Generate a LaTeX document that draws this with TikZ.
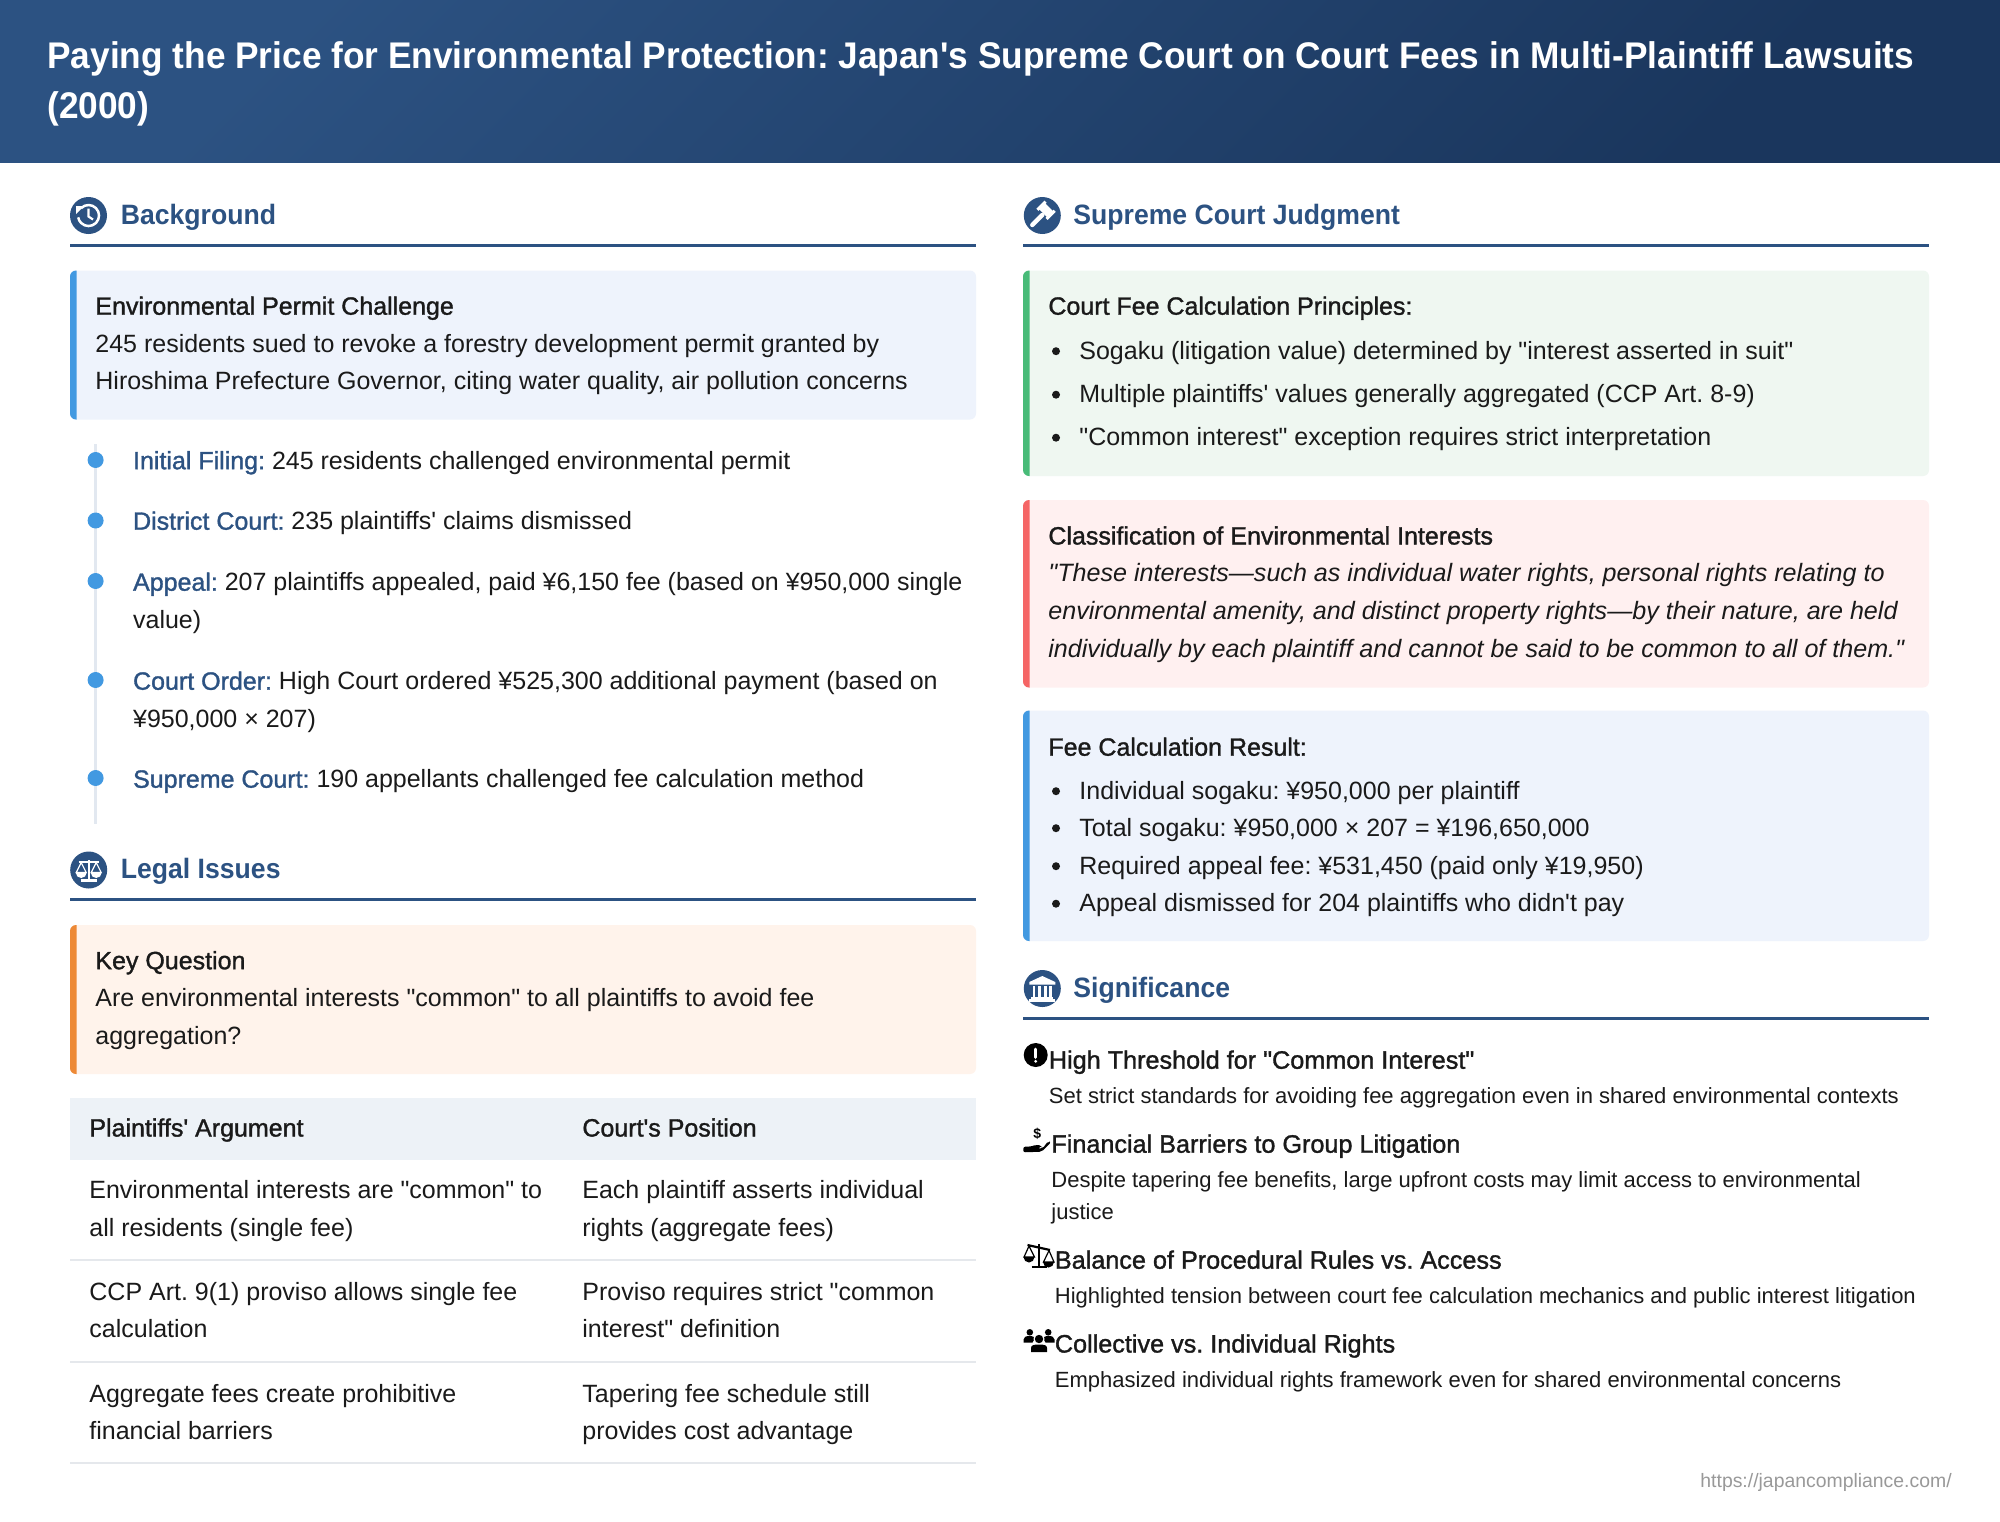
\documentclass[tikz,border=0pt]{standalone}
\usepackage{fontspec}
\setmainfont{Liberation Sans}[Ligatures=TeXOff]
\newfontfamily\medfont{Liberation Sans}[FakeBold=1.3,Ligatures=TeXOff]
\newfontfamily\headfont{Liberation Sans}[FakeStretch=.95,Ligatures=TeXOff]
\frenchspacing
\definecolor{headblue}{RGB}{44,82,130}
\definecolor{deepblue}{RGB}{26,54,93}
\definecolor{dotblue}{RGB}{66,153,225}
\definecolor{railgrey}{RGB}{226,232,240}
\definecolor{rowgrey}{RGB}{229,232,236}
\definecolor{ink}{RGB}{26,26,26}
\definecolor{paleblue}{RGB}{238,243,252}
\definecolor{palegreen}{RGB}{239,247,241}
\definecolor{palered}{RGB}{255,240,240}
\definecolor{paleorange}{RGB}{255,243,235}
\definecolor{palegrey}{RGB}{237,242,247}
\definecolor{accgreen}{RGB}{72,187,120}
\definecolor{accred}{RGB}{245,101,101}
\definecolor{accorange}{RGB}{237,137,54}
\definecolor{footgrey}{RGB}{153,153,153}
\newcommand{\lead}[1]{{\medfont\color{headblue}#1}}
\tikzset{
  body/.style={anchor=base west,inner sep=0pt,text=ink,font=\fontsize{12.5}{15}\selectfont},
  boxtitle/.style={body,font=\fontsize{12.5}{15}\selectfont\medfont},
  small/.style={body,font=\fontsize{11}{13}\selectfont},
  sigtitle/.style={body,font=\fontsize{12.6}{15}\selectfont\medfont},
  sechead/.style={body,text=headblue,font=\fontsize{14}{16}\selectfont\headfont\bfseries},
  pagetitle/.style={body,text=white,font=\fontsize{18.55}{22}\selectfont\headfont\bfseries},
  rule/.style={headblue,line width=1.5pt},
  pics/histicon/.style={code={
    \begin{scope}[yscale=-1]
    \fill[headblue] (0,0) circle (18.5);
    \draw[white,line width=1.25pt] (-7.4,7.4) arc (135:-170:10.5);
    \fill[white] (-12.5,9.5) -- (-4.5,9.5) -- (-12.5,1.5) -- cycle;
    \draw[white,line width=1.1pt] (0,7) -- (0,-1) -- (4.5,-4);
    \end{scope}
  }},
  pics/gavelicon/.style={code={
    \begin{scope}[yscale=-1]
    \fill[headblue] (0,0) circle (18.5);
    \draw[white,line width=2.2pt,line cap=round] (-10,-9.5) -- (0,.5);
    \begin{scope}[shift={(-1,.5)},rotate=45]
      \fill[white] (-6,2.5) rectangle (6,11);
      \fill[white] (-8,1) rectangle (-5,12.5);
      \fill[white] (5,1) rectangle (8,12.5);
    \end{scope}
    \end{scope}
  }},
  pics/scaleicon/.style={code={
    \begin{scope}[yscale=-1]
    \draw[#1,line width=1.1pt] (0,10) -- (0,-10) (-8,-10.5) -- (8,-10.5) (-10,8) -- (10,8);
    \draw[#1,line width=.6pt] (-12.5,-2.5) -- (-7.5,7.5) -- (-2.5,-2.5) -- cycle (2.5,-2.5) -- (7.5,7.5) -- (12.5,-2.5) -- cycle;
    \fill[#1] (-13,-2.5) arc (180:360:5.5) -- cycle (2,-2.5) arc (180:360:5.5) -- cycle;
    \end{scope}
  }},
  pics/tiltscale/.style={code={
    \begin{scope}[yscale=-1]
    \draw[black,line width=1pt] (0,12) -- (0,-10.5) (-7.5,-11) -- (8,-11);
    \draw[black,line width=1.1pt] (-11.5,11) -- (11,6);
    \draw[black,line width=.6pt] (-15,-1) -- (-10,10) -- (-4.5,-1) -- cycle (4.5,-6) -- (10,5.5) -- (15,-6) -- cycle;
    \fill[black] (-15.5,-1) arc (180:360:5.5) -- cycle (4,-6) arc (180:360:5.5) -- cycle;
    \end{scope}
  }},
  pics/bankicon/.style={code={
    \begin{scope}[yscale=-1]
    \fill[headblue] (0,0) circle (18.5);
    \fill[white] (0,12.5) -- (-13,6.5) -- (-13,4) -- (13,4) -- (13,6.5) -- cycle;
    \foreach \cx in {-8.3,-3,3,8.3} \fill[white] (\cx-1.2,2.5) rectangle (\cx+1.2,-8);
    \fill[white] (-11,-8) rectangle (11,-10);
    \fill[white] (-13,-10.5) rectangle (13,-13);
    \end{scope}
  }},
  pics/alerticon/.style={code={
    \begin{scope}[yscale=-1]
    \fill[black] (0,0) circle (12);
    \draw[white,line width=1.3pt,line cap=round] (0,6) -- (0,-2.5);
    \fill[white] (0,-6.3) circle (1.6);
    \end{scope}
  }},
  pics/handicon/.style={code={
    \begin{scope}[yscale=-1]
    \fill[black,rounded corners=1] (-14.2,-5.7) -- (-7.5,-5.7) -- (-1,-3.7) -- (4,-4.7) -- (3.5,-7) -- (-2,-7) -- (5,-7.5) -- (10.8,0) -- (13.5,-1.3) -- (4,-10.7) -- (-14.2,-11.3) -- cycle;
    \node[inner sep=0pt,font=\fontsize{7}{8}\selectfont\bfseries] (handcoin) at (-.2,6.7) {\$};
    \end{scope}
  }},
  pics/peopleicon/.style={code={
    \begin{scope}[yscale=-1]
    \fill[black] (-9.2,7.7) circle (3.3) (9.2,7.7) circle (3.3);
    \fill[black] (-15.5,-2.5) -- (-15.5,.5) .. controls (-15.5,3) and (-13,4) .. (-9.5,4) .. controls (-6,4) and (-4,3) .. (-4.5,1) -- (-6.5,-2.5) -- cycle;
    \fill[black] (15.5,-2.5) -- (15.5,.5) .. controls (15.5,3) and (13,4) .. (9.5,4) .. controls (6,4) and (4,3) .. (4.5,1) -- (6.5,-2.5) -- cycle;
    \fill[white] (0,1) circle (5.5);
    \fill[black] (0,1) circle (4.2);
    \fill[black] (-8,-12) -- (-8,-8) .. controls (-8,-5) and (-5,-4.5) .. (0,-4.5) .. controls (5,-4.5) and (8,-5) .. (8,-8) -- (8,-12) -- cycle;
    \end{scope}
  }},
}
\begin{document}
\begin{tikzpicture}[x=.5pt,y=-.5pt]
\useasboundingbox (0,0) rectangle (2000,1521);
\fill[white] (0,0) rectangle (2000,1521);
\shade[top color=headblue,bottom color=deepblue,shading angle=45] (0,0) rectangle (2000,162);
\node[pagetitle] (title1) at (47,68) {Paying the Price for Environmental Protection: Japan's Supreme Court on Court Fees in Multi-Plaintiff Lawsuits};
\node[pagetitle] (title2) at (47,118) {(2000)};

\foreach \x/\y/\t [count=\i] in {120.5/224.5/Background,1073/224.5/Supreme Court Judgment,120.5/878.5/Legal Issues,1073/997.5/Significance}
  \node[sechead] (sec\i) at (\x,\y) {\t};
\foreach \xa/\xb/\y in {70/976/245,1023/1929/245,70/976/899.5,1023/1929/1018}
  \draw[rule] (\xa,\y) -- (\xb,\y);
\pic at (88.5,215.5) {histicon};
\pic at (1042.3,215.5) {gavelicon};
\fill[headblue] (88.7,870) circle (18.5);
\pic at (88.7,870) {scaleicon=white};
\pic at (1042.3,988.5) {bankicon};

\foreach \xa/\ya/\xb/\yb/\bg/\acc in {70/270.5/976/419.5/paleblue/dotblue,70/925/976/1074/paleorange/accorange,1023/270.5/1929/476/palegreen/accgreen,1023/500/1929/687.5/palered/accred,1023/710.5/1929/941/paleblue/dotblue}{
  \fill[\bg,rounded corners=3pt] (\xa,\ya) rectangle (\xb,\yb);
  \begin{scope}
    \clip (\xa,\ya) rectangle (\xa+6.5,\yb);
    \fill[\acc,rounded corners=3pt] (\xa,\ya) rectangle (\xb,\yb);
  \end{scope}
}

\node[boxtitle] (permit) at (95,314.7) {Environmental Permit Challenge};
\foreach \y/\t [count=\i] in {352.2/{245 residents sued to revoke a forestry development permit granted by},389.7/{Hiroshima Prefecture Governor, citing water quality, air pollution concerns}}
  \node[body] (permit\i) at (95,\y) {\t};

\coordinate (railtop) at (95.6,444);
\coordinate (railend) at (95.6,824);
\draw[railgrey,line width=1.5pt] (railtop) -- (railend);
\foreach \y in {460,520.5,581,680,778}
  \fill[dotblue] (95.6,\y) circle (8);
\foreach \y/\t [count=\i] in {
  469.2/{\lead{Initial Filing:} 245 residents challenged environmental permit},
  529.7/{\lead{District Court:} 235 plaintiffs' claims dismissed},
  590.7/{\lead{Appeal:} 207 plaintiffs appealed, paid ¥6,150 fee (based on ¥950,000 single},
  628.7/{value)},
  689.7/{\lead{Court Order:} High Court ordered ¥525,300 additional payment (based on},
  727.7/{¥950,000 × 207)},
  787.7/{\lead{Supreme Court:} 190 appellants challenged fee calculation method}}
  \node[body] (event\i) at (132.7,\y) {\t};

\node[boxtitle] (question) at (95,969.2) {Key Question};
\foreach \y/\t [count=\i] in {1006.7/{Are environmental interests "common" to all plaintiffs to avoid fee},1044.2/{aggregation?}}
  \node[body] (question\i) at (95,\y) {\t};

\fill[palegrey] (70,1098) rectangle (976,1160);
\foreach \y in {1260,1362,1463}
  \draw[rowgrey,line width=1pt] (70,\y) -- (976,\y);
\node[boxtitle] (plaintiffs) at (89,1136.5) {Plaintiffs' Argument};
\node[boxtitle] (court) at (582,1136.5) {Court's Position};
\foreach \y/\t [count=\i] in {
  1198/{Environmental interests are "common" to},
  1236/{all residents (single fee)},
  1300/{CCP Art. 9(1) proviso allows single fee},
  1337.5/{calculation},
  1402/{Aggregate fees create prohibitive},
  1439/{financial barriers}}
  \node[body] (pcell\i) at (89,\y) {\t};
\foreach \y/\t [count=\i] in {
  1198/{Each plaintiff asserts individual},
  1236/{rights (aggregate fees)},
  1300/{Proviso requires strict "common},
  1337.5/{interest" definition},
  1402/{Tapering fee schedule still},
  1439/{provides cost advantage}}
  \node[body] (ccell\i) at (582,\y) {\t};

\node[boxtitle] (principles) at (1048,314.7) {Court Fee Calculation Principles:};
\foreach \y/\t [count=\i] in {
  359.2/{Sogaku (litigation value) determined by "interest asserted in suit"},
  402.7/{Multiple plaintiffs' values generally aggregated (CCP Art. 8-9)},
  445.7/{"Common interest" exception requires strict interpretation}}{
  \fill[ink] (1056,\y-8) circle (4);
  \node[body] (rule\i) at (1079,\y) {\t};
}

\node[boxtitle] (classes) at (1048,544.5) {Classification of Environmental Interests};
\foreach \y/\t [count=\i] in {
  581.5/{"These interests—such as individual water rights, personal rights relating to},
  619.5/{environmental amenity, and distinct property rights—by their nature, are held},
  657/{individually by each plaintiff and cannot be said to be common to all of them."}}
  \node[body,font=\fontsize{12.55}{15}\selectfont\itshape] (quote\i) at (1048,\y) {\t};

\node[boxtitle] (result) at (1048,755.7) {Fee Calculation Result:};
\foreach \y/\t [count=\i] in {
  799.2/{Individual sogaku: ¥950,000 per plaintiff},
  836.2/{Total sogaku: ¥950,000 × 207 = ¥196,650,000},
  874.2/{Required appeal fee: ¥531,450 (paid only ¥19,950)},
  911.7/{Appeal dismissed for 204 plaintiffs who didn't pay}}{
  \fill[ink] (1056,\y-8) circle (4);
  \node[body] (fee\i) at (1079,\y) {\t};
}

\pic at (1035.7,1055) {alerticon};
\pic at (1037.5,1141) {handicon};
\pic at (1039,1256) {tiltscale};
\pic at (1039,1340) {peopleicon};
\foreach \x/\y/\t [count=\i] in {1048.5/1068.7/{High Threshold for "Common Interest"},1051/1152.7/{Financial Barriers to Group Litigation},1054.5/1268.7/{Balance of Procedural Rules vs. Access},1054.5/1352.5/{Collective vs. Individual Rights}}
  \node[sigtitle] (impact\i) at (\x,\y) {\t};
\foreach \x/\y/\t [count=\i] in {
  1048.5/1103.7/{Set strict standards for avoiding fee aggregation even in shared environmental contexts},
  1051/1187.7/{Despite tapering fee benefits, large upfront costs may limit access to environmental},
  1051/1219.7/{justice},
  1054.5/1303.7/{Highlighted tension between court fee calculation mechanics and public interest litigation},
  1054.5/1387.5/{Emphasized individual rights framework even for shared environmental concerns}}
  \node[small] (note\i) at (\x,\y) {\t};

\node[body,text=footgrey,font=\fontsize{9.7}{12}\selectfont] (source) at (1700,1487.5) {https://japancompliance.com/};
\end{tikzpicture}
\end{document}
